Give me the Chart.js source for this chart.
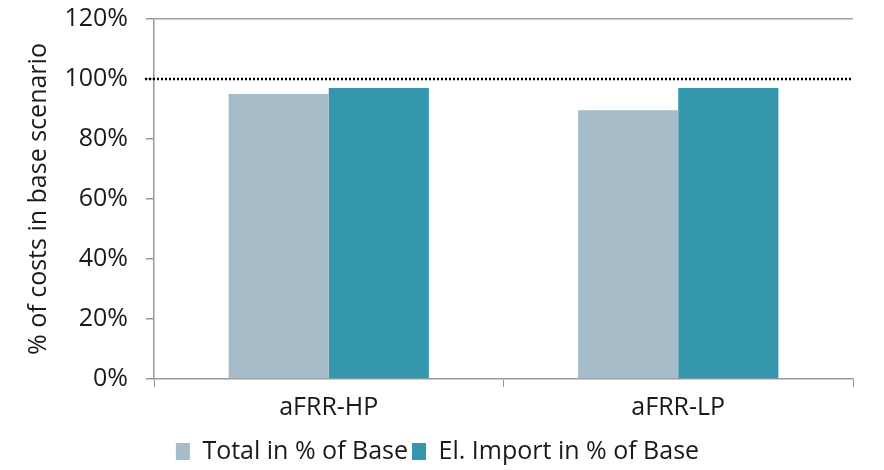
<!DOCTYPE html>
<html>
<head>
<meta charset="utf-8">
<script src="https://cdn.jsdelivr.net/npm/chart.js@4/dist/chart.umd.min.js"></script>
<style>
  html, body { margin: 0; padding: 0; background: #fff; }
  #wrap { width: 884px; height: 470px; }
</style>
</head>
<body>
<div id="wrap"><canvas id="chart1"></canvas></div>
<script>
const categories = ['aFRR-HP', 'aFRR-LP'];
const totalPct = [95, 89.6];
const importPct = [97, 97];
const baseLine = 100;
const yTicks = [0, 20, 40, 60, 80, 100, 120];

const font = "'Open Sans', 'DejaVu Sans', sans-serif";
Chart.defaults.font.family = font;
Chart.defaults.color = '#1a1a1a';

// dotted reference line at 100 %
const baseLinePlugin = {
  id: 'baseLine',
  afterDatasetsDraw(chart) {
    const y = chart.scales.y.getPixelForValue(baseLine);
    const ctx = chart.ctx;
    ctx.save();
    ctx.strokeStyle = '#000';
    ctx.lineWidth = 2.5;
    ctx.setLineDash([2, 2]);
    ctx.beginPath();
    ctx.moveTo(chart.chartArea.left - 9, y);
    ctx.lineTo(chart.chartArea.right, y);
    ctx.stroke();
    ctx.restore();
  }
};

new Chart(document.getElementById('chart1'), {
  type: 'bar',
  data: {
    labels: categories,
    datasets: [{
      label: 'Total in % of Base',
      data: totalPct,
      backgroundColor: '#a7bcc9'
    }, {
      label: 'El. Import in % of Base',
      data: importPct,
      backgroundColor: '#3497ad'
    }]
  },
  options: {
    responsive: true,
    maintainAspectRatio: false,
    animation: false,
    categoryPercentage: 0.573,
    barPercentage: 1,
    layout: { padding: { left: 22, right: 31, top: 19, bottom: -4 } },
    plugins: {
      tooltip: { enabled: false },
      legend: {
        position: 'bottom',
        labels: {
          font: { size: 25 },
          boxWidth: 14,
          boxHeight: 17,
          padding: 4,
          color: '#1a1a1a'
        }
      }
    },
    scales: {
      x: {
        offset: true,
        grid: {
          offset: true,
          drawOnChartArea: false,
          tickLength: 8,
          tickColor: '#9a9a9a'
        },
        border: { color: '#9a9a9a', width: 1.5 },
        ticks: { font: { size: 25 }, padding: 6, color: '#1a1a1a' },
        afterFit(scale) { scale.height = 56; }
      },
      y: {
        min: 0,
        max: 120,
        afterBuildTicks(scale) { scale.ticks = yTicks.map(v => ({ value: v })); },
        grid: {
          color: ctx => ctx.tick && ctx.tick.value === 120 ? '#a0a0a0' : 'transparent',
          lineWidth: 1.5,
          tickLength: 8,
          tickColor: '#9a9a9a'
        },
        border: { color: '#9a9a9a', width: 1.5 },
        ticks: {
          font: { size: 25 },
          padding: 18,
          color: '#1a1a1a',
          callback: v => v + '%'
        },
        title: {
          display: true,
          text: '% of costs in base scenario',
          font: { size: 25 },
          color: '#1a1a1a',
          padding: { top: 2, bottom: 0 }
        },
        afterFit(scale) {
          scale.width = 132;
          scale.paddingTop = 0;
          scale.paddingBottom = 0;
        }
      }
    }
  },
  plugins: [baseLinePlugin]
});
</script>
</body>
</html>
